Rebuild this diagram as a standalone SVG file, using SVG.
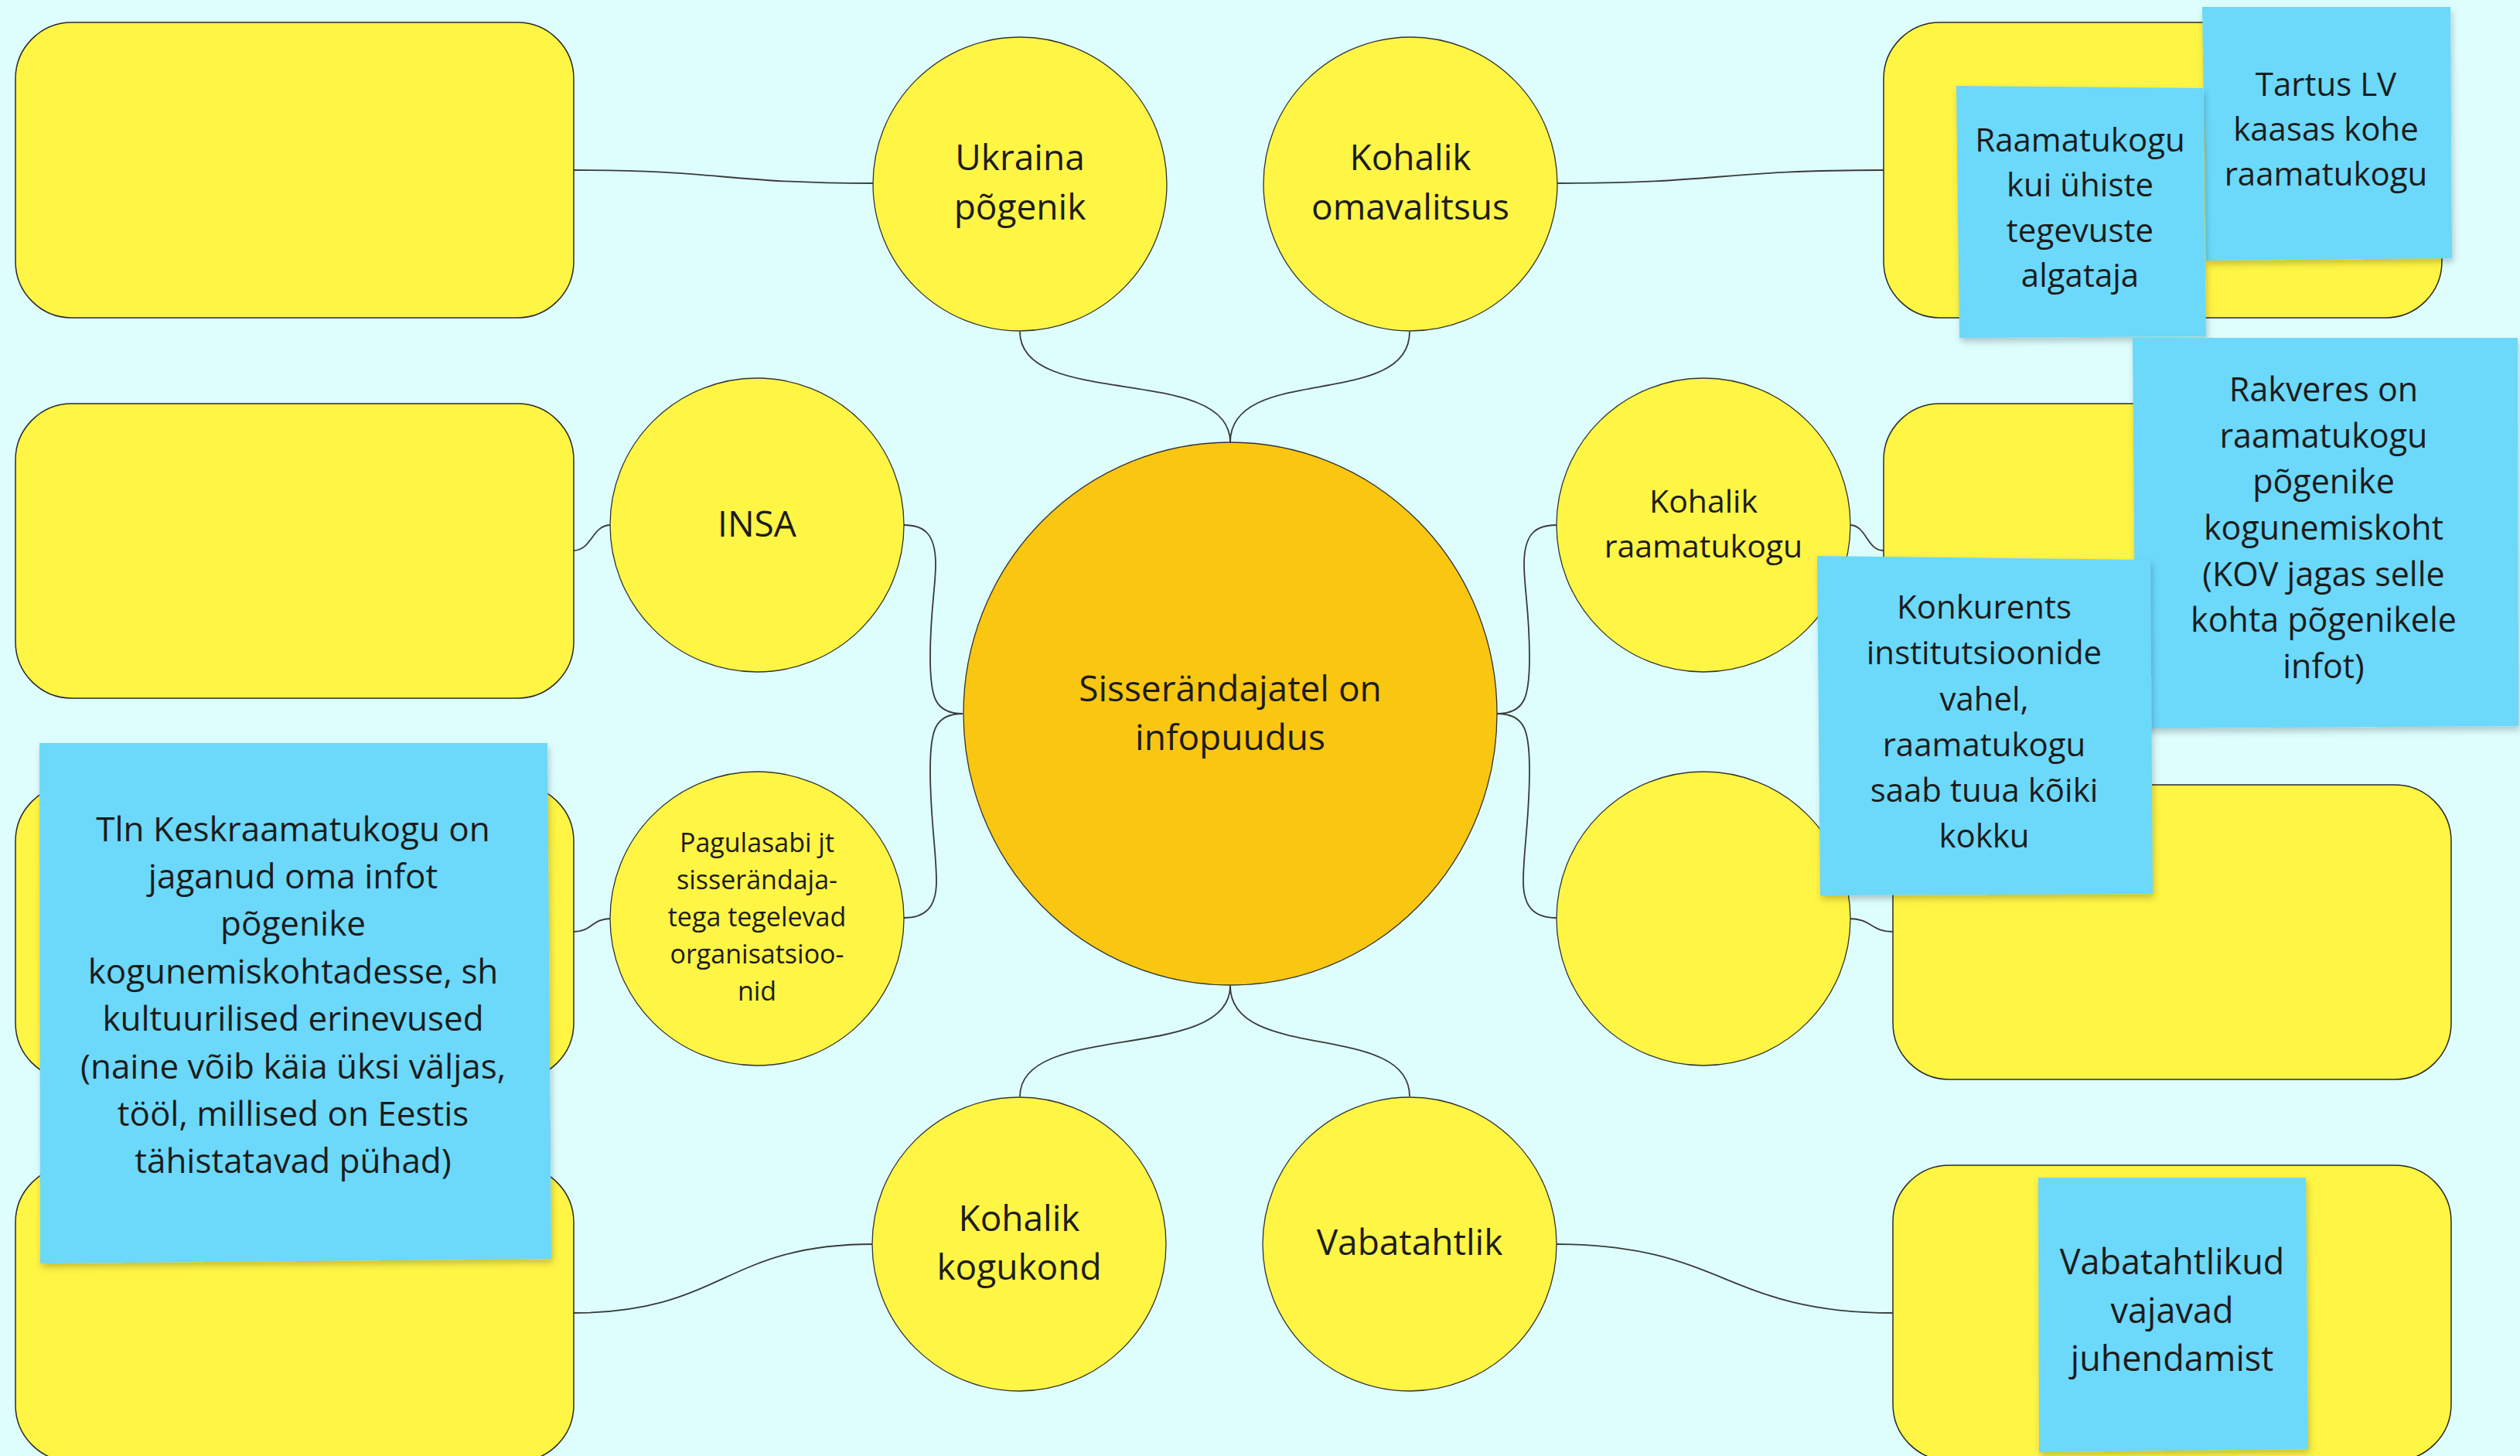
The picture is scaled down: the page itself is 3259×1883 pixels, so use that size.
<svg xmlns="http://www.w3.org/2000/svg" width="3259" height="1883" viewBox="0 0 3259 1883">
<style>
.box{fill:#fff545;stroke:#2a2a2a;stroke-width:1.5}
.node{fill:#fff545;stroke:#333;stroke-width:1.3}
.core{fill:#f9c612;stroke:#333;stroke-width:1.3}
.con{fill:none;stroke:#3a3a3a;stroke-width:1.8}
.note{fill:#6cd8fa;filter:url(#sh)}
text{font-family:"Open Sans","Noto Sans","Liberation Sans",sans-serif;fill:#1c1c1c;text-anchor:middle}
.t46{font-size:46px}
.t41{font-size:41px}
.t34{font-size:34px}
</style>
<defs>
<filter id="sh" x="-5%" y="-5%" width="110%" height="115%">
<feDropShadow dx="2" dy="5" stdDeviation="4" flood-color="#000" flood-opacity="0.22"/>
</filter>
</defs>
<rect x="0" y="0" width="3259" height="1883" fill="#defefe"/>

<g id="boxes">
<rect id="box-l1" class="box" x="20" y="29" width="722" height="382" rx="73" ry="73"/>
<rect id="box-l2" class="box" x="20" y="522" width="722" height="381" rx="73" ry="73"/>
<rect id="box-l3" class="box" x="20" y="1015" width="722" height="381" rx="73" ry="73"/>
<rect id="box-l4" class="box" x="20" y="1508" width="722" height="382" rx="73" ry="73"/>
<rect id="box-r1" class="box" x="2436" y="29" width="722" height="382" rx="73" ry="73"/>
<rect id="box-r2" class="box" x="2436" y="522" width="722" height="381" rx="73" ry="73"/>
<rect id="box-r3" class="box" x="2448" y="1015" width="722" height="381" rx="73" ry="73"/>
<rect id="box-r4" class="box" x="2448" y="1507" width="722" height="382" rx="73" ry="73"/>
</g>

<g id="connectors">
<path class="con" d="M741,220 C935,220 935,237 1129,237"/>
<path class="con" d="M2013,237 C2225,237 2225,220 2436,220"/>
<path class="con" d="M741,712 C766,712 765,679 790,679"/>
<path class="con" d="M741,1205 C766,1205 765,1188 790,1188"/>
<path class="con" d="M741,1698 C935,1698 935,1609 1130,1609"/>
<path class="con" d="M2011,1609 C2230,1609 2230,1698 2448,1698"/>
<path class="con" d="M2392,679 C2414,679 2414,712 2436,712"/>
<path class="con" d="M2392,1188 C2420,1188 2420,1205 2448,1205"/>
<path class="con" d="M1591,572 C1591,470 1319,530 1319,429"/>
<path class="con" d="M1591,572 C1591,470 1823,530 1823,429"/>
<path class="con" d="M1591,1275 C1591,1375 1319,1320 1319,1418"/>
<path class="con" d="M1591,1275 C1591,1375 1823,1320 1823,1418"/>
<path class="con" d="M1245,923 C1208,923 1203,900 1203,850 C1203,790 1210,760 1210,730 C1210,690 1195,679 1169,679"/>
<path class="con" d="M1245,923 C1208,923 1203,946 1203,996 C1203,1060 1211,1100 1211,1140 C1211,1175 1195,1187 1169,1187"/>
<path class="con" d="M1936,923 C1973,923 1978,900 1978,850 C1978,790 1971,760 1971,730 C1971,690 1986,679 2013,679"/>
<path class="con" d="M1936,923 C1973,923 1978,946 1978,996 C1978,1060 1970,1100 1970,1140 C1970,1175 1986,1187 2013,1187"/>
</g>

<g id="center">
<ellipse class="core" cx="1591" cy="923" rx="345" ry="351"/>
<text class="t46" x="1591" y="907">Sisserändajatel on</text>
<text class="t46" x="1591" y="970">infopuudus</text>
</g>

<g id="n-ukraina">
<circle class="node" cx="1319" cy="238" r="190"/>
<text class="t46" x="1319" y="220">Ukraina</text>
<text class="t46" x="1319" y="284">põgenik</text>
</g>
<g id="n-omavalitsus">
<circle class="node" cx="1824" cy="238" r="190"/>
<text class="t46" x="1824" y="220">Kohalik</text>
<text class="t46" x="1824" y="284">omavalitsus</text>
</g>
<g id="n-insa">
<circle class="node" cx="979" cy="679" r="190"/>
<text class="t46" x="979" y="694">INSA</text>
</g>
<g id="n-pagulasabi">
<circle class="node" cx="979" cy="1188" r="190"/>
<text class="t34" x="979" y="1102">Pagulasabi jt</text>
<text class="t34" x="979" y="1150">sisserändaja-</text>
<text class="t34" x="979" y="1198">tega tegelevad</text>
<text class="t34" x="979" y="1246">organisatsioo-</text>
<text class="t34" x="979" y="1294">nid</text>
</g>
<g id="n-raamatukogu">
<circle class="node" cx="2203" cy="679" r="190"/>
<text class="t41" x="2203" y="663">Kohalik</text>
<text class="t41" x="2203" y="721">raamatukogu</text>
</g>
<g id="n-empty">
<circle class="node" cx="2203" cy="1188" r="190"/>
</g>
<g id="n-kogukond">
<circle class="node" cx="1318" cy="1609" r="190"/>
<text class="t46" x="1318" y="1592">Kohalik</text>
<text class="t46" x="1318" y="1655">kogukond</text>
</g>
<g id="n-vabatahtlik">
<circle class="node" cx="1823" cy="1609" r="190"/>
<text class="t46" x="1823" y="1623">Vabatahtlik</text>
</g>

<g id="note-tartu">
<polygon class="note" points="2848,9 3169,9 3171,334 2853,337"/>
<g font-size="42"><text x="3008" y="124">Tartus LV</text><text x="3008" y="182">kaasas kohe</text><text x="3008" y="240">raamatukogu</text></g>
</g>
<g id="note-algataja">
<polygon class="note" points="2530,111 2849,114 2853,435 2534,437"/>
<g font-size="42"><text x="2690" y="196">Raamatukogu</text><text x="2690" y="254">kui ühiste</text><text x="2690" y="313">tegevuste</text><text x="2690" y="371">algataja</text></g>
</g>
<g id="note-rakvere">
<polygon class="note" points="2758,437 3256,437 3257,939 2762,942"/>
<g font-size="43"><text x="3005" y="519">Rakveres on</text><text x="3005" y="579">raamatukogu</text><text x="3005" y="638">põgenike</text><text x="3005" y="698">kogunemiskoht</text><text x="3005" y="758">(KOV jagas selle</text><text x="3005" y="817">kohta põgenikele</text><text x="3005" y="877">infot)</text></g>
</g>
<g id="note-konkurents">
<polygon class="note" points="2350,719 2781,724 2784,1156 2354,1158"/>
<g font-size="42"><text x="2566" y="800">Konkurents</text><text x="2566" y="859">institutsioonide</text><text x="2566" y="919">vahel,</text><text x="2566" y="978">raamatukogu</text><text x="2566" y="1037">saab tuua kõiki</text><text x="2566" y="1096">kokku</text></g>
</g>
<g id="note-tallinn">
<polygon class="note" points="51,961 708,961 713,1628 52,1634"/>
<g font-size="44"><text x="379" y="1088">Tln Keskraamatukogu on</text><text x="379" y="1149">jaganud oma infot</text><text x="379" y="1210">põgenike</text><text x="379" y="1272">kogunemiskohtadesse, sh</text><text x="379" y="1333">kultuurilised erinevused</text><text x="379" y="1395">(naine võib käia üksi väljas,</text><text x="379" y="1456">tööl, millised on Eestis</text><text x="379" y="1517">tähistatavad pühad)</text></g>
</g>
<g id="note-vabatahtlikud">
<polygon class="note" points="2636,1523 2982,1523 2985,1874 2637,1878"/>
<g font-size="45"><text x="2809" y="1648">Vabatahtlikud</text><text x="2809" y="1711">vajavad</text><text x="2809" y="1773">juhendamist</text></g>
</g>
</svg>
